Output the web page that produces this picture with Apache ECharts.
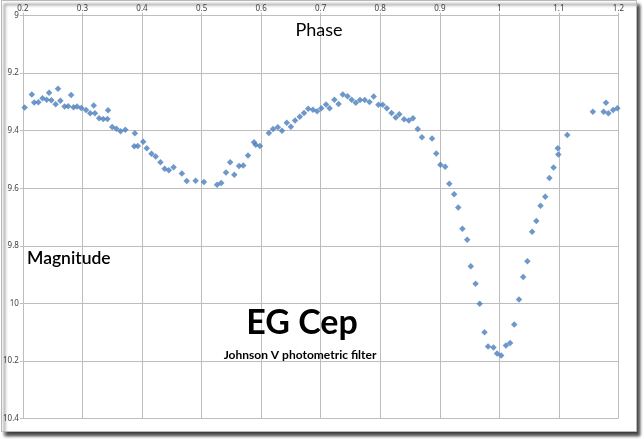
<!DOCTYPE html>
<html>
<head>
<meta charset="utf-8">
<script src="https://cdn.jsdelivr.net/npm/echarts@6/dist/echarts.min.js"></script>
<style>
html,body{margin:0;padding:0;background:#ffffff;}
#c{width:644px;height:439px;}
</style>
</head>
<body>
<div id="c"></div>
<script>
var phase = [0.203,0.215,0.219,0.226,0.233,0.240,0.244,0.248,0.255,0.259,0.263,0.270,0.276,0.281,0.285,0.291,0.298,0.306,0.313,0.319,0.321,0.328,0.335,0.342,0.343,0.350,0.357,0.364,0.372,0.388,0.387,0.393,0.402,0.408,0.416,0.423,0.431,0.438,0.445,0.453,0.467,0.475,0.490,0.504,0.526,0.533,0.541,0.548,0.555,0.563,0.570,0.578,0.588,0.591,0.598,0.613,0.620,0.628,0.635,0.643,0.650,0.657,0.665,0.672,0.679,0.687,0.694,0.701,0.709,0.715,0.723,0.730,0.737,0.745,0.752,0.759,0.766,0.774,0.782,0.789,0.797,0.804,0.811,0.819,0.826,0.832,0.840,0.848,0.855,0.863,0.870,0.887,0.894,0.901,0.909,0.916,0.924,0.931,0.938,0.946,0.952,0.960,0.967,0.975,0.981,0.990,0.996,1.003,1.011,1.018,1.025,1.033,1.040,1.047,1.055,1.062,1.069,1.077,1.084,1.091,1.098,1.099,1.114,1.157,1.175,1.179,1.183,1.191,1.198];
var magnitude = [9.319,9.274,9.302,9.301,9.287,9.292,9.268,9.294,9.308,9.254,9.296,9.316,9.315,9.276,9.318,9.316,9.321,9.328,9.339,9.312,9.339,9.357,9.359,9.359,9.329,9.387,9.393,9.402,9.397,9.409,9.454,9.453,9.438,9.461,9.480,9.490,9.510,9.532,9.537,9.527,9.549,9.575,9.574,9.578,9.588,9.582,9.545,9.510,9.553,9.523,9.521,9.486,9.440,9.449,9.453,9.408,9.394,9.388,9.400,9.372,9.386,9.364,9.351,9.338,9.324,9.327,9.332,9.322,9.309,9.322,9.292,9.307,9.274,9.280,9.292,9.303,9.293,9.293,9.300,9.281,9.310,9.310,9.322,9.338,9.354,9.343,9.360,9.364,9.357,9.394,9.423,9.427,9.479,9.518,9.525,9.584,9.621,9.667,9.741,9.779,9.871,9.932,10.002,10.101,10.150,10.154,10.175,10.182,10.147,10.138,10.074,9.987,9.909,9.854,9.751,9.714,9.661,9.630,9.564,9.528,9.461,9.483,9.415,9.334,9.334,9.303,9.339,9.328,9.322];
var xTicks = {min: 0.2, max: 1.2, step: 0.1};
var yTicks = {min: 9, max: 10.4, step: 0.2};
var texts = {title: 'EG Cep', subtitle: 'Johnson V photometric filter', xName: 'Phase', yName: 'Magnitude'};

var points = phase.map(function (p, i) { return [p, magnitude[i]]; });
var fmt = function (v) { return String(Math.round(v * 10) / 10); };
var chart = echarts.init(document.getElementById('c'), null, {renderer: 'canvas'});
var gridColor = '#bdbdbd';
chart.setOption({
  backgroundColor: '#ffffff',
  animation: false,
  graphic: [
    {type: 'rect', z: -10, silent: true,
     shape: {x: 1.5, y: 0.5, width: 635, height: 431},
     style: {fill: '#ffffff', stroke: '#b8b8b8', lineWidth: 1,
             shadowBlur: 3, shadowOffsetX: 3, shadowOffsetY: 4, shadowColor: 'rgba(0,0,0,0.75)'}},
    {type: 'text', x: 319, y: 30, z: 10,
     style: {text: texts.xName, fontFamily: 'Lato', fontSize: 18, fill: '#000', align: 'center', verticalAlign: 'middle'}},
    {type: 'text', x: 27, y: 258.5, z: 10,
     style: {text: texts.yName, fontFamily: 'Lato', fontSize: 17.5, fontWeight: 600, fill: '#000', align: 'left', verticalAlign: 'middle'}},
    {type: 'text', x: 302, y: 323, z: 10,
     style: {text: texts.title, fontFamily: 'Lato', fontSize: 34, fontWeight: 'bold', fill: '#000', align: 'center', verticalAlign: 'middle'}},
    {type: 'text', x: 300, y: 355, z: 10,
     style: {text: texts.subtitle, fontFamily: 'Lato', fontSize: 12, fontWeight: 'bold', fill: '#000', align: 'center', verticalAlign: 'middle'}}
  ],
  grid: {left: 22.5, right: 25.5, top: 15.7, bottom: 20.7, containLabel: false},
  xAxis: {
    type: 'value', position: 'top', min: xTicks.min, max: xTicks.max, interval: xTicks.step,
    axisLine: {show: true, onZero: false, lineStyle: {color: gridColor, width: 1}},
    axisTick: {show: true, inside: false, length: 3, lineStyle: {color: gridColor}},
    axisLabel: {formatter: fmt, fontSize: 8, color: '#404040', fontFamily: 'Noto Sans', margin: 3},
    splitLine: {show: true, lineStyle: {color: gridColor, width: 1}}
  },
  yAxis: {
    type: 'value', inverse: true, min: yTicks.min, max: yTicks.max, interval: yTicks.step,
    axisLine: {show: true, onZero: false, lineStyle: {color: gridColor, width: 1}},
    axisTick: {show: true, inside: false, length: 3, lineStyle: {color: gridColor}},
    axisLabel: {formatter: fmt, fontSize: 8, color: '#404040', fontFamily: 'Noto Sans', margin: 4},
    splitLine: {show: true, lineStyle: {color: gridColor, width: 1}}
  },
  series: [{
    type: 'scatter', data: points, symbol: 'diamond', symbolSize: 6.5,
    itemStyle: {color: '#4a7ebb'}
  }]
});
</script>
</body>
</html>
